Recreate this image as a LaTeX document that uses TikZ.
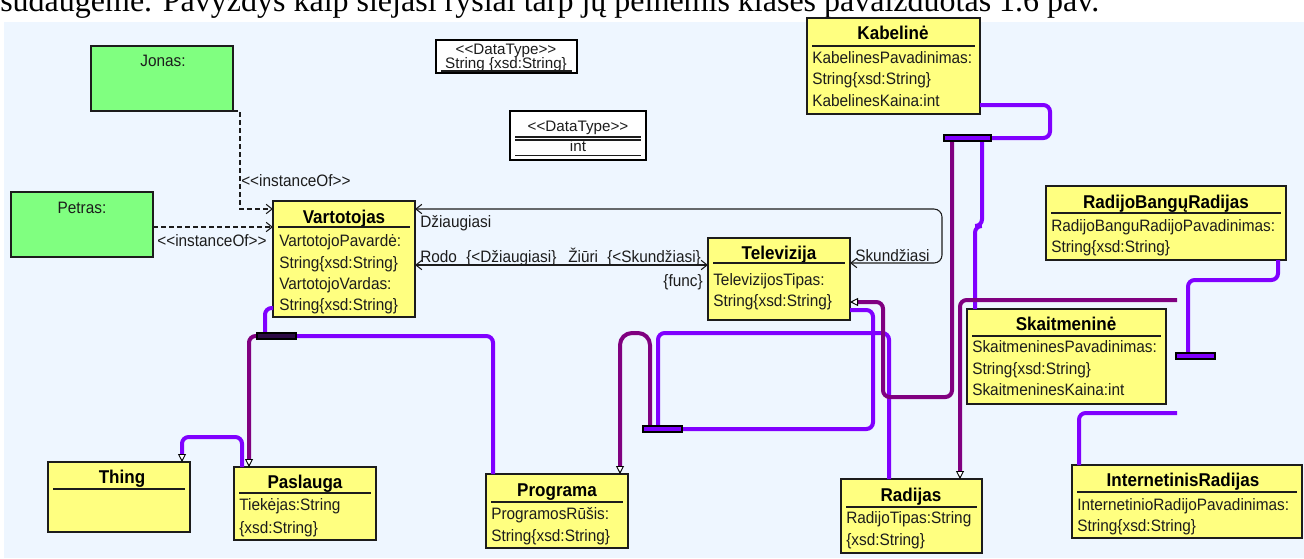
\documentclass[tikz,border=0pt]{standalone}
\usepackage{fontspec}
\setmainfont{Liberation Sans}
\newfontfamily\bodyserif{Liberation Serif}
\newfontfamily\diafont{Liberation Sans}[FakeStretch=0.93]
\newfontfamily\diabold{Liberation Sans}[FakeStretch=0.92]
\usetikzlibrary{arrows.meta,fit,calc}
\definecolor{canvas}{RGB}{238,246,255}
\definecolor{clsfill}{RGB}{255,255,128}
\definecolor{objfill}{RGB}{128,255,128}
\definecolor{subline}{RGB}{128,0,255}
\definecolor{supline}{RGB}{128,0,128}
\definecolor{inkc}{RGB}{28,28,28}
\definecolor{darkbar}{RGB}{45,10,70}
\newcommand\lgl{<\kern0pt<}
\newcommand\rgl{>\kern0pt>}
\begin{document}
\begin{tikzpicture}[x=0.75pt,y=-0.75pt,
  clsframe/.style={draw=inkc, line width=1.1pt, fill=clsfill, inner sep=0pt, outer sep=0pt},
  objframe/.style={draw=inkc, line width=1.1pt, fill=objfill, inner sep=0pt, outer sep=0pt},
  dtframe/.style={draw=black, line width=1.1pt, fill=white, inner sep=0pt, outer sep=0pt},
  sepline/.style={draw=inkc, line width=1pt},
  regfont/.style={font=\diafont\fontsize{12.4}{14}\selectfont},
  attr/.style={regfont, text=inkc, inner sep=0pt, anchor=base west},
  ctext/.style={regfont, text=inkc, inner sep=0pt, anchor=base},
  dttext/.style={font=\fontsize{11.4}{13}\selectfont, text=inkc, inner sep=0pt, anchor=base},
  ttl/.style={font=\diabold\bfseries\fontsize{13.9}{16}\selectfont, text=black, inner sep=0pt, anchor=base},
  inst/.style={draw=inkc, line width=1pt, dash pattern=on 3.5pt off 2.5pt,
    -{Straight Barb[length=4.5pt,width=7pt,line width=0.8pt]}},
  assoc/.style={draw=inkc, line width=0.8pt,
    {Straight Barb[length=4.5pt,width=7pt]}-{Straight Barb[length=4.5pt,width=7pt]}},
  sub/.style={draw=subline, line width=3pt, rounded corners=5pt},
  sup/.style={draw=supline, line width=3pt, rounded corners=5pt},
  hollow/.style={-{Triangle[fill=white,color=black,line width=0.7pt,length=6pt,width=6pt]}},
  setbar/.style={fill=subline, draw=black, line width=0.8pt, inner sep=0pt, outer sep=0pt},
  darksetbar/.style={setbar, fill=darkbar},
]
\useasboundingbox (0,0) rectangle (1304,558);

% page strip with the running text above the diagram
\fill[white] (0,0) rectangle (1304,558);
\node[font=\bodyserif\fontsize{24}{28}\selectfont, anchor=base west, inner sep=0pt] (caption) at (0,11)
  {sudaugėme. Pavyzdys kaip siejasi ryšiai tarp jų pelnėmis klasės pavaizduotas 1.6 pav.};
\fill[canvas] (4,22) rectangle (1304,558);

% ---------- instances ----------
\node[objframe, fit={(91,46) (233,111)}] (jonas) {};
\node[ctext] (jonasT) at (163,66) {Jonas:};
\node[objframe, fit={(11,192) (153,257)}] (petras) {};
\node[ctext] (petrasT) at (82,213) {Petras:};

% ---------- data types ----------
\node[dtframe, fit={(436,40) (577,73)}] (dtstr) {};
\node[dttext] (dtstrA) at (506,54) {\lgl DataType\rgl};
\node[dttext] (dtstrB) at (506,68.5) {String \{xsd:String\}};
\draw[sepline] (441,71) -- (572,71);

\node[dtframe, fit={(510,111) (646,160)}] (dtint) {};
\node[dttext] (dtintA) at (578,131.5) {\lgl DataType\rgl};
\draw[sepline] (515,137) -- (641,137);
\draw[sepline] (515,140) -- (641,140);
\node[dttext] (dtintB) at (578,151.5) {int};
\draw[sepline] (515,155.5) -- (641,155.5);

% ---------- classes ----------
\node[clsframe, fit={(273,201) (415,317)}] (vart) {};
\node[ttl] (vartT) at (344,223.5) {Vartotojas};
\draw[sepline] (278,227) -- (410,227);
\node[attr] (vartA) at (279,246) {VartotojoPavardė:};
\node[attr] (vartB) at (279,268) {String\{xsd:String\}};
\node[attr] (vartC) at (279,289) {VartotojoVardas:};
\node[attr] (vartD) at (279,310) {String\{xsd:String\}};

\node[clsframe, fit={(708,238) (850,320)}] (tele) {};
\node[ttl] (teleT) at (779,259.5) {Televizija};
\draw[sepline] (713,263) -- (845,263);
\node[attr] (teleA) at (713,285) {TelevizijosTipas:};
\node[attr] (teleB) at (713,306) {String\{xsd:String\}};

\node[clsframe, fit={(807,18) (980,114)}] (kabel) {};
\node[ttl] (kabelT) at (893,39.5) {Kabelinė};
\draw[sepline] (812,46) -- (975,46);
\node[attr] (kabelA) at (812,63) {KabelinesPavadinimas:};
\node[attr] (kabelB) at (812,84) {String\{xsd:String\}};
\node[attr] (kabelC) at (812,106) {KabelinesKaina:int};

\node[clsframe, fit={(1046,186) (1286,260)}] (rbr) {};
\node[ttl] (rbrT) at (1166,208.5) {RadijoBangųRadijas};
\draw[sepline] (1051,213) -- (1281,213);
\node[attr] (rbrA) at (1051,231) {RadijoBanguRadijoPavadinimas:};
\node[attr] (rbrB) at (1051,252) {String\{xsd:String\}};

\node[clsframe, fit={(967,309) (1166,404)}] (skait) {};
\node[ttl] (skaitT) at (1066,330.5) {Skaitmeninė};
\draw[sepline] (972,336) -- (1161,336);
\node[attr] (skaitA) at (972,352) {SkaitmeninesPavadinimas:};
\node[attr] (skaitB) at (972,374) {String\{xsd:String\}};
\node[attr] (skaitC) at (972,395) {SkaitmeninesKaina:int};

\node[clsframe, fit={(841,479) (982,553)}] (radijas) {};
\node[ttl] (radijasT) at (911,501.5) {Radijas};
\draw[sepline] (846,507) -- (977,507);
\node[attr] (radijasA) at (846,523) {RadijoTipas:String};
\node[attr] (radijasB) at (846,545) {\{xsd:String\}};

\node[clsframe, fit={(1072,465) (1302,538)}] (inet) {};
\node[ttl] (inetT) at (1183,486.5) {InternetinisRadijas};
\draw[sepline] (1077,492) -- (1297,492);
\node[attr] (inetA) at (1077,510) {InternetinioRadijoPavadinimas:};
\node[attr] (inetB) at (1077,531) {String\{xsd:String\}};

\node[clsframe, fit={(486,474) (628,548)}] (prog) {};
\node[ttl] (progT) at (557,496.5) {Programa};
\draw[sepline] (491,502) -- (623,502);
\node[attr] (progA) at (491,519) {ProgramosRūšis:};
\node[attr] (progB) at (491,541) {String\{xsd:String\}};

\node[clsframe, fit={(234,467) (376,540)}] (pasl) {};
\node[ttl] (paslT) at (305,488.5) {Paslauga};
\draw[sepline] (239,493) -- (371,493);
\node[attr] (paslA) at (239,510) {Tiekėjas:String};
\node[attr] (paslB) at (239,533) {\{xsd:String\}};

\node[clsframe, fit={(48,462) (190,532)}] (thing) {};
\node[ttl] (thingT) at (122,483.5) {Thing};
\draw[sepline] (53,489) -- (185,489);

% ---------- instanceOf links ----------
\draw[inst] (jonas.south east) -- ++(7,0) |- (vart.west |- 0,209);
\draw[inst] (petras.east |- 0,227) -- (vart.west |- 0,227);
\node[attr] (instA) at (241,186) {\lgl instanceOf\rgl};
\node[ctext] (instB) at (212,246) {\lgl instanceOf\rgl};

% ---------- associations ----------
\draw[assoc, rounded corners=6pt] (vart.east |- 0,209) -- (942,209) -- (942,263) -- (tele.east |- 0,263);
\node[attr] (lblDz) at (420,227) {Džiaugiasi};
\node[attr] (lblSk) at (855,261) {Skundžiasi};
\draw[assoc] (vart.east |- 0,265) -- (tele.west |- 0,265);
\node[attr] (lblRodo) at (420,262) {Rodo};
\node[attr] (lblInvA) at (466,262) {\{<Džiaugiasi\}};
\node[attr] (lblZiuri) at (568,262) {Žiūri};
\node[attr] (lblInvB) at (607,262) {\{<Skundžiasi\}};
\node[regfont, text=inkc, inner sep=0pt, anchor=base east] (lblFunc) at (703,286.5) {\{func\}};

% ---------- subclass hubs ----------
% Paslauga
\draw[sub] (vart.west |- 0,308) -- (265,308) -- (265,334);
\draw[sub] (296,336) -- (493,336) -- (prog.north -| 493,0);
\draw[sup, hollow] (259,336) -- (249,336) -- (pasl.north -| 249,0);
\node[darksetbar, fit={(257,333) (296,339)}] (barP) {};
\draw[sub, hollow] (pasl.north -| 242,0) -- (242,437) -- (182,437) -- (thing.north -| 182,0);

% Programa
\draw[sup, hollow, rounded corners=9pt] (650,427) -- (650,333) -- (620,333) -- (prog.north -| 620,0);
\draw[sub] (tele.east |- 0,310) -- (873,310) -- (873,429) -- (683,429);
\draw[sub] (radijas.north -| 889,0) -- (889,333) -- (658,333) -- (658,427);
\node[setbar, fit={(643,426) (682,432)}] (barG) {};

% Televizija
\draw[sub] (kabel.east |- 0,105) -- (1050,105) -- (1050,138) -- (992,138);
\draw[sup, hollow] (952,141) -- (952,397) -- (883,397) -- (883,302) -- (tele.east |- 0,302);
\draw[sub] (982,141) -- (982,226) -- (975,226) -- (skait.north -| 975,0);
\node[setbar, fit={(944,135) (991,141)}] (barK) {};

% Radijas
\draw[sub] (rbr.south -| 1278,0) -- (1278,280) -- (1188,280) -- (1188,353);
\node[setbar, fit={(1176,353) (1215,359)}] (barR) {};
\coordinate (supR) at (1177,300);
\draw[sup, hollow] (supR) -- (960,300) -- (radijas.north -| 960,0);
\coordinate (subI) at (1177,413);
\draw[sub] (inet.north -| 1079,0) -- (1079,413) -- (subI);
\end{tikzpicture}
\end{document}
